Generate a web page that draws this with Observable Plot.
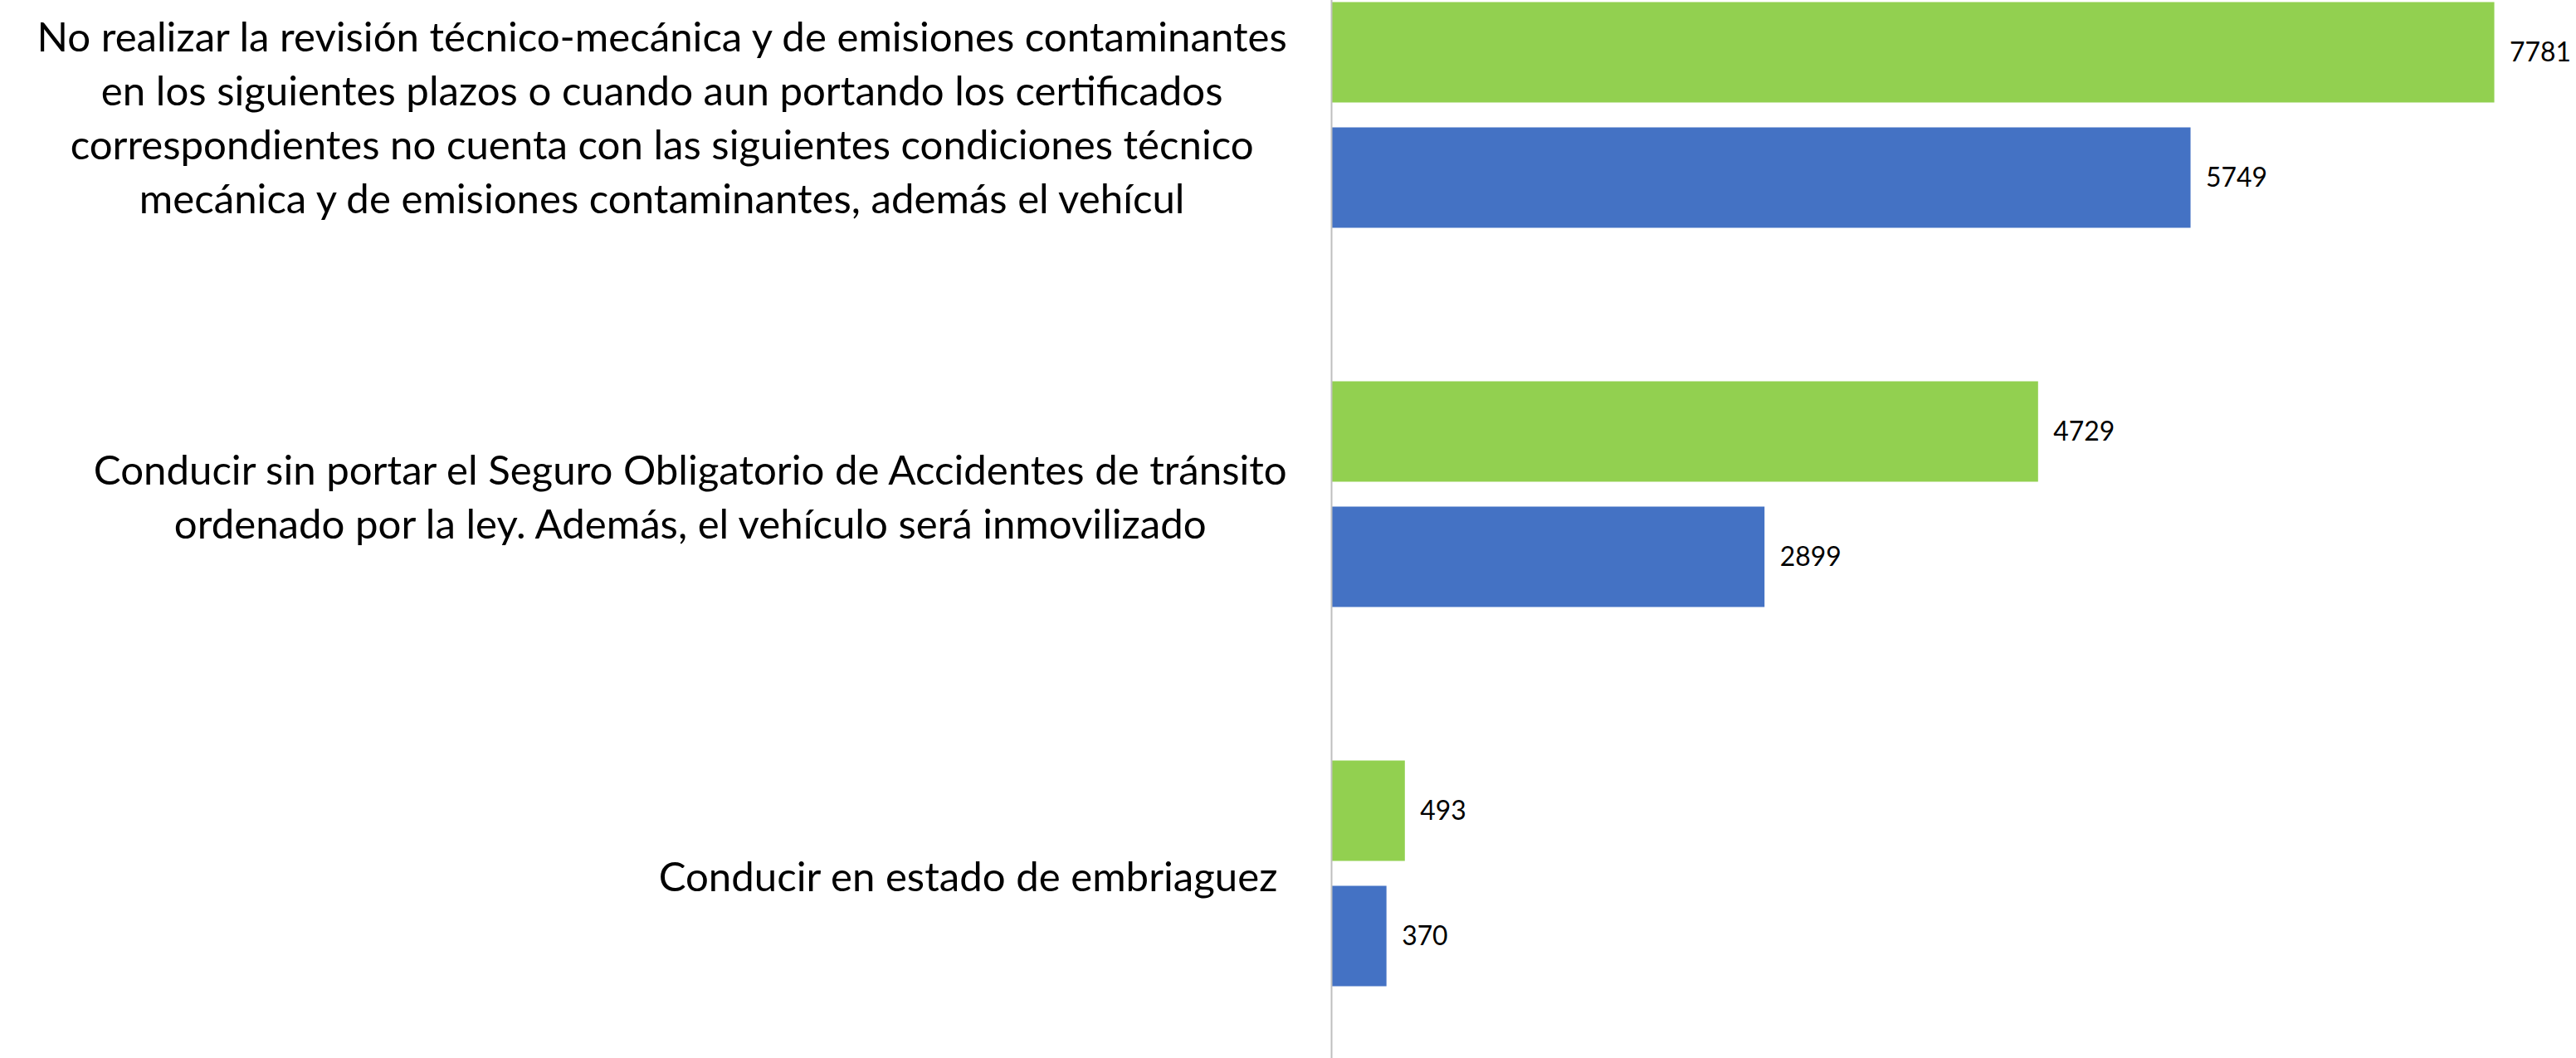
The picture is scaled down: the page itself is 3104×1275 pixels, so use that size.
<!DOCTYPE html>
<html>
<head>
<meta charset="utf-8">
<script src="https://cdn.jsdelivr.net/npm/d3@7"></script>
<script src="https://cdn.jsdelivr.net/npm/@observablehq/plot@0.6"></script>
<style>
  html, body { margin: 0; padding: 0; background: #ffffff; }
  #chart svg { display: block; }
  #chart svg text, #chart svg tspan { white-space: pre; }
</style>
</head>
<body>
<div id="chart"></div>
<script>
// ---- Data ----
const categories = [
  "No realizar la revisión técnico-mecánica y de emisiones contaminantes\nen los siguientes plazos o cuando aun portando los certificados\ncorrespondientes no cuenta con las siguientes condiciones técnico\nmecánica y de emisiones contaminantes, además el vehícul",
  "Conducir sin portar el Seguro Obligatorio de Accidentes de tránsito\nordenado por la ley. Además, el vehículo será inmovilizado",
  "Conducir en estado de embriaguez "
];
const seriesNames = ["Serie 1", "Serie 2"];
const serie1 = [7781, 4729, 493];   // green
const serie2 = [5749, 2899, 370];   // blue
const seriesColors = ["#92D050", "#4472C4"];

const rows = categories.flatMap((c, i) => [
  {cat: c, serie: seriesNames[0], value: serie1[i]},
  {cat: c, serie: seriesNames[1], value: serie2[i]}
]);

// ---- Font sizing (match the reference's text widths) ----
const FONT = "Lato";
const ctx = document.createElement("canvas").getContext("2d");
function measure(str, size) {
  ctx.font = `${size}px ${FONT}`;
  return ctx.measureText(str).width;
}
const labelSize = 100 * 747 / measure("Conducir en estado de embriaguez", 100);
const valueSize = 100 * 74 / measure("4729", 100);
const lineGap = 65; // px between label lines

// ---- Chart ----
const W = 3104, H = 1275;
const marginLeft = 1604;
const labelGap = 52;

const labelMarks = categories.map(c => {
  const w = d3.max(c.split("\n"), s => measure(s, labelSize));
  return Plot.text([c], {
    fy: d => d,
    text: d => d,
    frameAnchor: "left",
    textAnchor: "middle",
    lineAnchor: "middle",
    lineHeight: lineGap / labelSize,
    fontSize: labelSize,
    fontFamily: FONT,
    fill: "#000000",
    dx: -(labelGap + w / 2)
  });
});

const chart = Plot.plot({
  width: W,
  height: H,
  marginLeft: marginLeft,
  marginRight: 59,
  marginTop: -90.5,
  marginBottom: -5.5,
  style: {background: "#ffffff", fontFamily: FONT},
  x: {domain: [0, 8000], axis: null},
  y: {domain: seriesNames, axis: null, paddingInner: 0.1974, paddingOuter: 0.602},
  fy: {domain: categories, axis: null, padding: 0},
  color: {domain: seriesNames, range: seriesColors},
  marks: [
    Plot.barX(rows, {fy: "cat", y: "serie", x: "value", fill: "serie"}),
    Plot.text(rows, {
      fy: "cat", y: "serie", x: "value",
      text: d => String(d.value),
      textAnchor: "start",
      dx: 18,
      fontSize: valueSize,
      fontFamily: FONT,
      fill: "#000000"
    }),
    ...labelMarks,
    Plot.ruleX([0], {stroke: "#bfbfbf", strokeWidth: 2})
  ]
});

document.getElementById("chart").appendChild(chart);
</script>
</body>
</html>
